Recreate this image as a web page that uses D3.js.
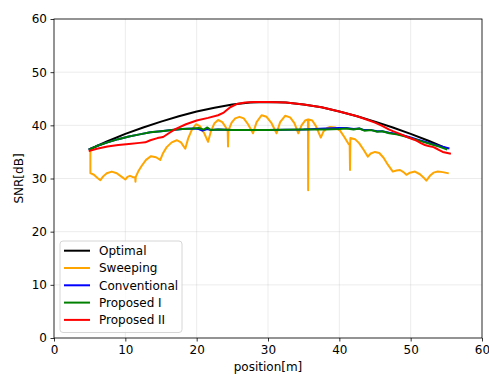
<!DOCTYPE html>
<html>
<head>
<meta charset="utf-8">
<script src="https://cdn.jsdelivr.net/npm/d3@7"></script>
<style>
  body { margin: 0; background: #fff; }
  text { font-family: "DejaVu Sans", sans-serif; }
</style>
</head>
<body>
<svg id="chart" width="489" height="374"></svg>
<script>
// values, [position m, SNR dB]
const optimal = [[5,35.5],[7.5,37.0],[10,38.4],[12.5,39.6],[15,40.7],[17.5,41.7],[20,42.6],[22.5,43.3],
  [25,43.9],[27.5,44.3],[30,44.4],[32.5,44.3],[35,43.9],[37.5,43.4],[40,42.6],[42.5,41.7],[45,40.7],
  [47.5,39.6],[50,38.4],[52.5,37.1],[55,35.7]];

const sweeping = [[5.1,35.3],[5.1,31.0],[5.6,30.7],[6.1,30.1],[6.5,29.7],[6.9,30.4],[7.4,31.0],[8.1,31.3],
  [8.8,31.0],[9.4,30.4],[10.0,29.8],[10.3,30.3],[10.65,30.5],[11.0,30.3],[11.38,30.2],[11.42,29.4],
  [11.46,30.3],[11.8,31.3],[12.3,32.4],[12.9,33.5],[13.6,34.2],[14.3,34.0],[14.9,33.5],[15.3,34.8],
  [15.8,35.9],[16.5,36.8],[17.2,37.2],[17.8,36.8],[18.4,35.6],[18.8,37.5],[19.3,39.1],[19.9,40.2],
  [20.5,39.8],[21.1,38.4],[21.6,36.9],[22.0,38.9],[22.5,40.4],[23.0,41.0],[23.6,40.6],[24.1,39.6],
  [24.35,38.9],[24.4,36.0],[24.45,39.0],[24.9,40.5],[25.4,41.3],[26.0,41.6],[26.6,41.3],[27.2,40.2],
  [27.9,38.5],[28.4,40.6],[29.1,41.9],[29.8,41.6],[30.5,40.4],[31.2,38.5],[31.7,40.6],[32.4,41.8],
  [33.1,41.5],[33.7,40.4],[34.25,38.5],[34.7,40.0],[35.2,40.9],[35.6,41.1],[35.63,27.8],[35.68,41.1],
  [36.2,40.9],[36.7,39.9],[37.4,37.7],[37.8,38.9],[38.3,39.5],[38.7,39.7],[39.4,39.6],[40.1,39.0],
  [40.7,37.8],[41.3,36.5],[41.45,36.3],[41.5,31.6],[41.55,37.6],[42.2,37.4],[42.8,36.6],[43.4,35.4],
  [44.0,34.1],[44.4,34.7],[45.0,35.0],[45.6,34.8],[46.2,33.9],[46.8,32.6],[47.5,31.3],[48.0,31.5],
  [48.5,31.6],[49.0,31.2],[49.4,30.7],[49.9,31.1],[50.6,31.3],[51.3,30.8],[51.8,30.2],[52.2,29.6],
  [52.7,30.5],[53.2,31.1],[53.8,31.3],[54.5,31.2],[55.2,31.0]];

const conventional = [[5,35.5],[6,36.1],[7.5,36.8],[9,37.4],[10.5,37.9],[12,38.3],[13.5,38.7],[15,38.9],
  [16.5,39.1],[18,39.3],[19.5,39.4],[20.3,39.3],[20.8,39.0],[21.5,39.3],[22,39.1],[23,39.2],[25,39.1],
  [30,39.1],[35,39.2],[38,39.4],[40,39.5],[41,39.5],[42,39.3],[42.8,39.4],[43.5,39.1],[44.5,39.1],
  [45.3,38.9],[46,38.9],[47,38.6],[48,38.4],[49,38.1],[50,37.7],[51,37.3],[52,36.9],[53,36.5],
  [54,36.1],[55.3,35.7]];

const proposedI = [[5,35.5],[6,36.1],[7.5,36.8],[9,37.4],[10.5,37.9],[12,38.3],[13.5,38.7],[15,38.9],
  [16.5,39.1],[18,39.3],[19.5,39.4],[20.3,39.5],[21,39.2],[21.5,39.6],[22,39.1],[23,39.2],[25,39.1],
  [30,39.1],[35,39.2],[38,39.2],[40,39.3],[41,39.4],[42,39.2],[42.8,39.4],[43.5,39.0],[44.5,39.1],
  [45.3,38.8],[46,38.9],[47,38.5],[48,38.3],[49,38.0],[50,37.6],[51,37.2],[52,36.8],[53,36.4],
  [54,36.0],[55,35.5]];

const proposedII = [[5,35.2],[6,35.6],[7.5,36.0],[9,36.3],[10.5,36.5],[12,36.7],[12.8,36.8],[13.5,37.2],
  [14.5,37.6],[15.3,37.8],[16.2,38.6],[17,39.3],[18.5,40.2],[20,40.9],[21.6,41.4],[23.0,41.9],
  [23.8,42.4],[24.7,43.4],[25.6,44.0],[26.8,44.3],[28,44.4],[30,44.4],[32.5,44.3],[35,43.9],
  [37.5,43.4],[40,42.6],[42.5,41.7],[44,41.0],[45,40.5],[46,39.9],[47,39.2],[47.5,38.9],[48.5,38.4],
  [49.5,37.8],[50.5,37.3],[51,37.0],[51.5,36.6],[52,36.3],[52.5,36.1],[53.2,35.9],[53.8,35.5],
  [54.5,35.0],[55.5,34.7]];

const seriesNames = ["Optimal", "Sweeping", "Conventional", "Proposed I", "Proposed II"];
const seriesData = [optimal, sweeping, conventional, proposedI, proposedII];
const seriesColors = ["#000000", "#ffa500", "#0000ff", "#008000", "#ff0000"];
const xTicks = [0, 10, 20, 30, 40, 50, 60];
const yTicks = [0, 10, 20, 30, 40, 50, 60];

const fontSize = "12px";
const svg = d3.select("#chart");
const margin = { left: 54, right: 7, top: 19, bottom: 36 };
const width = 489 - margin.left - margin.right;
const height = 374 - margin.top - margin.bottom;

const x = d3.scaleLinear().domain([0, 60]).range([0, width]);
const y = d3.scaleLinear().domain([0, 60]).range([height, 0]);

const g = svg.append("g")
  .attr("transform", "translate(" + margin.left + "," + margin.top + ")");

// grid
g.append("g").selectAll("line").data(xTicks).enter().append("line")
  .attr("x1", d => x(d)).attr("x2", d => x(d))
  .attr("y1", 0).attr("y2", height)
  .attr("stroke", "#b0b0b0").attr("stroke-opacity", 0.3).attr("stroke-width", 0.8);
g.append("g").selectAll("line").data(yTicks).enter().append("line")
  .attr("y1", d => y(d)).attr("y2", d => y(d))
  .attr("x1", 0).attr("x2", width)
  .attr("stroke", "#b0b0b0").attr("stroke-opacity", 0.3).attr("stroke-width", 0.8);

// lines
const line = d3.line().x(d => x(d[0])).y(d => y(d[1]));
seriesData.forEach((data, i) => {
  g.append("path")
    .datum(data)
    .attr("d", line)
    .attr("fill", "none")
    .attr("stroke", seriesColors[i])
    .attr("stroke-width", 2)
    .attr("stroke-linejoin", "round")
    .attr("stroke-linecap", "square");
});

// axes
const xAxis = g.append("g")
  .attr("transform", "translate(0," + height + ")")
  .call(d3.axisBottom(x).tickValues(xTicks).tickSize(3.5).tickPadding(3.5));
const yAxis = g.append("g")
  .call(d3.axisLeft(y).tickValues(yTicks).tickSize(3.5).tickPadding(3.5));
[xAxis, yAxis].forEach(a => {
  a.selectAll("text").attr("font-size", fontSize).attr("fill", "#000")
    .style("font-family", "DejaVu Sans, sans-serif");
  a.selectAll("line").attr("stroke", "#000").attr("stroke-width", 0.8);
  a.select(".domain").remove();
});

// frame
g.append("rect")
  .attr("width", width).attr("height", height)
  .attr("fill", "none").attr("stroke", "#000").attr("stroke-width", 0.8);

// axis labels
svg.append("text")
  .attr("x", margin.left + width / 2).attr("y", 371)
  .attr("text-anchor", "middle").attr("font-size", fontSize)
  .text("position[m]");
svg.append("text")
  .attr("transform", "translate(23," + (margin.top + height / 2) + ") rotate(-90)")
  .attr("text-anchor", "middle").attr("font-size", fontSize)
  .text("SNR[dB]");

// legend
const legend = svg.append("g").attr("transform", "translate(60,241)");
legend.append("rect")
  .attr("width", 122).attr("height", 91.5).attr("rx", 3)
  .attr("fill", "#fff").attr("fill-opacity", 0.8)
  .attr("stroke", "#cccccc").attr("stroke-width", 0.8);
seriesNames.forEach((name, i) => {
  const ly = 9.7 + i * 17.3;
  legend.append("line")
    .attr("x1", 4).attr("x2", 30).attr("y1", ly).attr("y2", ly)
    .attr("stroke", seriesColors[i]).attr("stroke-width", 2);
  legend.append("text")
    .attr("x", 39).attr("y", ly + 4.2)
    .attr("font-size", fontSize)
    .text(name);
});
</script>
</body>
</html>
